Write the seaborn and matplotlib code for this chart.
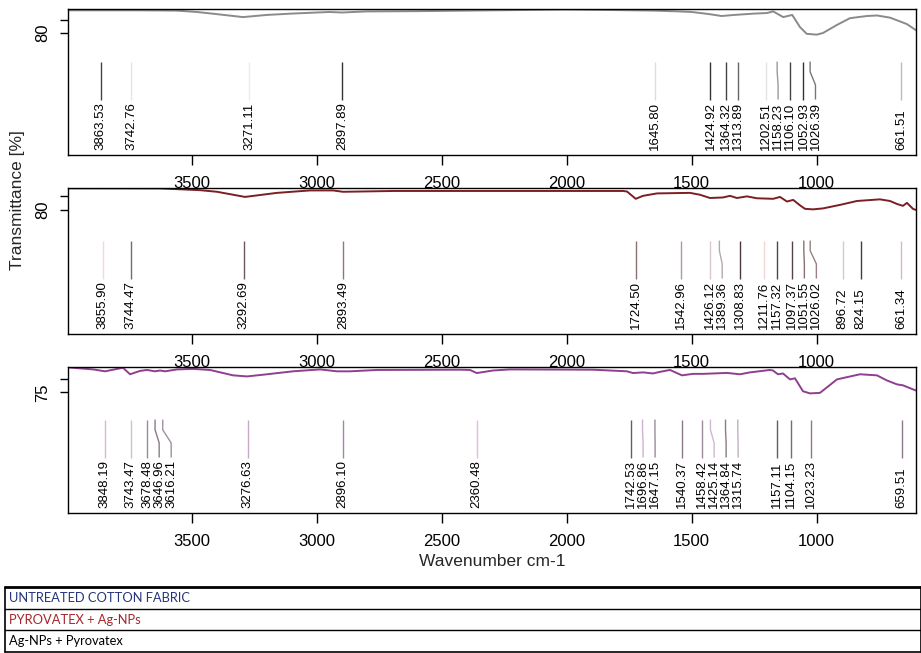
import matplotlib
matplotlib.use("Agg")
import matplotlib.pyplot as plt
import seaborn as sns
import pandas as pd
from matplotlib.transforms import blended_transform_factory

# ---- spectra (wavenumber in cm-1, transmittance in %) ----
wn1 = [3994, 3700, 3560, 3480, 3400, 3295, 3200, 3100, 2950, 2900,
       2800, 2600, 2400, 2000, 1800, 1650, 1550, 1500, 1430, 1380,
       1330, 1250, 1200, 1174, 1134, 1098, 1067, 1040, 1000, 975,
       919, 867, 799, 759, 707, 667, 639, 604]
t1 = [88.4, 88.4, 88.3, 87.8, 87.0, 85.9, 86.7, 87.2, 87.8, 87.6,
      88.0, 88.1, 88.3, 88.7, 88.5, 88.3, 88.0, 87.8, 87.0, 86.3,
      86.7, 87.2, 87.4, 88.0, 85.9, 86.7, 82.2, 79.7, 79.4, 80.0,
      83.0, 85.5, 86.3, 86.5, 85.7, 84.3, 83.3, 81.1]

wn2 = [3994, 3627, 3467, 3399, 3287, 3159, 3027, 2935, 2895, 2827,
       2693, 2427, 2100, 1775, 1759, 1724, 1695, 1639, 1507, 1467,
       1427, 1375, 1347, 1319, 1279, 1239, 1174, 1147, 1119, 1094,
       1067, 1047, 1015, 975, 907, 839, 747, 707, 679, 655,
       639, 615, 604]
t2 = [88.0, 87.95, 87.3, 86.7, 84.8, 86.3, 87.2, 87.2, 86.7, 86.8,
      87.0, 87.0, 87.0, 87.0, 86.8, 84.1, 85.2, 86.1, 86.3, 85.6,
      84.4, 84.6, 85.2, 84.4, 85.0, 84.3, 84.1, 84.8, 83.1, 83.7,
      81.7, 80.4, 80.2, 80.55, 81.85, 83.3, 83.9, 83.3, 82.2, 81.5,
      82.6, 80.4, 80.0]

wn3 = [3994, 3894, 3847, 3787, 3775, 3747, 3707, 3679, 3647, 3627,
       3607, 3559, 3495, 3427, 3335, 3279, 3199, 3095, 2987, 2919,
       2867, 2759, 2427, 2387, 2360, 2295, 2227, 1895, 1759, 1735,
       1695, 1655, 1627, 1587, 1539, 1495, 1455, 1415, 1359, 1307,
       1267, 1187, 1175, 1155, 1135, 1107, 1087, 1055, 1027, 987,
       959, 919, 827, 759, 719, 679, 655, 615, 604]
t3 = [84.25, 83.5, 82.8, 83.9, 84.1, 81.7, 82.95, 83.3, 82.8, 83.1,
      82.8, 83.5, 83.7, 83.3, 81.3, 80.9, 81.7, 82.8, 83.5, 82.8,
      82.8, 83.3, 83.4, 83.3, 82.15, 83.1, 83.5, 83.4, 82.8, 82.15,
      82.4, 82.0, 82.6, 83.3, 81.3, 81.85, 81.85, 82.0, 82.2, 81.7,
      82.4, 83.3, 83.1, 81.7, 82.0, 79.8, 80.2, 75.4, 74.6, 74.8,
      76.85, 79.8, 81.7, 81.3, 79.4, 77.96, 77.6, 76.1, 75.7]

# ---- picked peaks ----
peaks1 = [3863.53, 3742.76, 3271.11, 2897.89, 1645.80, 1424.92, 1364.32,
          1313.89, 1202.51, 1158.23, 1106.10, 1052.93, 1026.39, 661.51]
peaks2 = [3855.90, 3744.47, 3292.69, 2893.49, 1724.50, 1542.96, 1426.12,
          1389.36, 1308.83, 1211.76, 1157.32, 1097.37, 1051.55, 1026.02,
          896.72, 824.15, 661.34]
peaks3 = [3848.19, 3743.47, 3678.48, 3646.96, 3616.21, 3276.63, 2896.10,
          2360.48, 1742.53, 1696.86, 1647.15, 1540.37, 1458.42, 1425.14,
          1364.84, 1315.74, 1157.11, 1104.15, 1023.23, 659.51]

# marker-line shades for each peak
peak_colors1 = ["#444444", "#e6e2ee", "#ebebeb", "#333333", "#dddddd", "#333333",
                "#444444", "#666666", "#e4e4e4", "#999999", "#444444", "#333333",
                "#777777", "#bbbbbb"]
peak_colors2 = ["#f0dada", "#7a6a6a", "#6d5a5a", "#8a7a7a", "#8a7070", "#b09a9a",
                "#d8c8c8", "#b8a8a8", "#4a3a3a", "#f0d8d8", "#554444", "#554444",
                "#8a7070", "#9a8080", "#d8c8c8", "#4a3a3a", "#d8b8c0"]
peak_colors3 = ["#d8b8d8", "#d0c0d0", "#9a8a9a", "#8a7a8a", "#a090a0", "#c8a8c8",
                "#a088a0", "#e0c0e0", "#6a5a6a", "#d0b0d0", "#9a8a9a", "#8a7a8a",
                "#9a8a9a", "#d0b8d0", "#8a7a8a", "#c0b0c0", "#6a5a6a", "#7a6a7a",
                "#8a7a8a", "#8a7a8a"]

x_ticks = [3500, 3000, 2500, 2000, 1500, 1000]
legend_labels = ["UNTREATED COTTON FABRIC", "PYROVATEX + Ag-NPs", "Ag-NPs + Pyrovatex"]
legend_colors = ["#26357a", "#a3262b", "#000000"]

sns.set_theme(style="ticks")
plt.rcParams["font.family"] = ["Liberation Sans", "DejaVu Sans"]

W, H = 921, 653
fig = plt.figure(figsize=(W / 100, H / 100), dpi=100)
fig.patch.set_facecolor("white")

panels = [
    dict(wn=wn1, t=t1, color="#8a8a8a", ylim=(34.8, 88.9), ytick=80,
         peaks=peaks1, pcolors=peak_colors1, top=9),
    dict(wn=wn2, t=t2, color="#7b1f24", ylim=(34.1, 88.1), ytick=80,
         peaks=peaks2, pcolors=peak_colors2, top=188),
    dict(wn=wn3, t=t3, color="#8f3f8f", ylim=(30.2, 84.4), ytick=75,
         peaks=peaks3, pcolors=peak_colors3, top=367),
]

LEFT, RIGHT, PH = 68.3, 915.7, 146.0
GAP = 48.0  # minimal label spacing in cm-1


def spread(peaks):
    out = []
    for p in peaks:
        x = p if not out else min(p, out[-1] - GAP)
        out.append(x)
    return out


for cfg in panels:
    rect = [LEFT / W, 1 - (cfg["top"] + PH) / H, (RIGHT - LEFT) / W, PH / H]
    ax = fig.add_axes(rect)
    df = pd.DataFrame({"wn": cfg["wn"], "T": cfg["t"]})
    sns.lineplot(data=df, x="wn", y="T", ax=ax, color=cfg["color"], lw=1.4,
                 estimator=None, sort=False)
    ax.set_xlim(3994, 604)
    ax.set_ylim(*cfg["ylim"])
    ax.set_xlabel("")
    ax.set_ylabel("")
    ax.set_xticks(x_ticks)
    ax.set_xticklabels([str(v) for v in x_ticks])
    ax.set_yticks([cfg["ytick"], cfg["ytick"] + 5])
    ax.set_yticklabels([str(cfg["ytick"]), ""])
    ax.tick_params(axis="x", length=7, width=1, pad=8, labelsize=12, colors="black")
    ax.tick_params(axis="y", length=6, width=1, pad=7, labelsize=12, colors="black")
    for lab in ax.get_yticklabels():
        lab.set_rotation(90)
        lab.set_va("center")
    for s in ax.spines.values():
        s.set_visible(True)
        s.set_color("black")
        s.set_linewidth(1.0)
    ax.grid(False)

    trans = blended_transform_factory(ax.transData, ax.transAxes)
    for p, lx, col in zip(cfg["peaks"], spread(cfg["peaks"]), cfg["pcolors"]):
        ax.plot([p, p, lx, lx], [0.64, 0.57, 0.48, 0.38], color=col, lw=1.0,
                transform=trans, solid_capstyle="butt")
        ax.text(lx, 0.035, f"{p:.2f}", rotation=90, ha="center", va="bottom",
                fontsize=9.5, color="black", transform=trans)

fig.text(18 / W, 1 - 200 / H, "Transmittance [%]", rotation=90,
         ha="center", va="center", fontsize=12.5)
fig.text(492 / W, 1 - 562 / H, "Wavenumber cm-1", ha="center", va="center",
         fontsize=12.5)

# sample key table
tax = fig.add_axes([5 / W, 1 - 652 / H, (W - 5) / W, 65 / H])
tax.set_xlim(0, 1)
tax.set_ylim(0, 3)
tax.axis("off")
tax.plot([0, 1], [3, 3], color="black", lw=2.0, clip_on=False)
tax.plot([0, 1], [0, 0], color="black", lw=1.2, clip_on=False)
tax.plot([0, 0], [0, 3], color="black", lw=1.2, clip_on=False)
tax.plot([1, 1], [0, 3], color="black", lw=1.2, clip_on=False)
for yy in (1, 2):
    tax.plot([0, 1], [yy, yy], color="black", lw=1.0)
for i, (lab, col) in enumerate(zip(legend_labels, legend_colors)):
    tax.text(0.004, 2.5 - i, lab, color=col, ha="left", va="center",
             fontsize=9.3, family=["Lato", "DejaVu Sans"])

fig.savefig("out.png", dpi=100)
